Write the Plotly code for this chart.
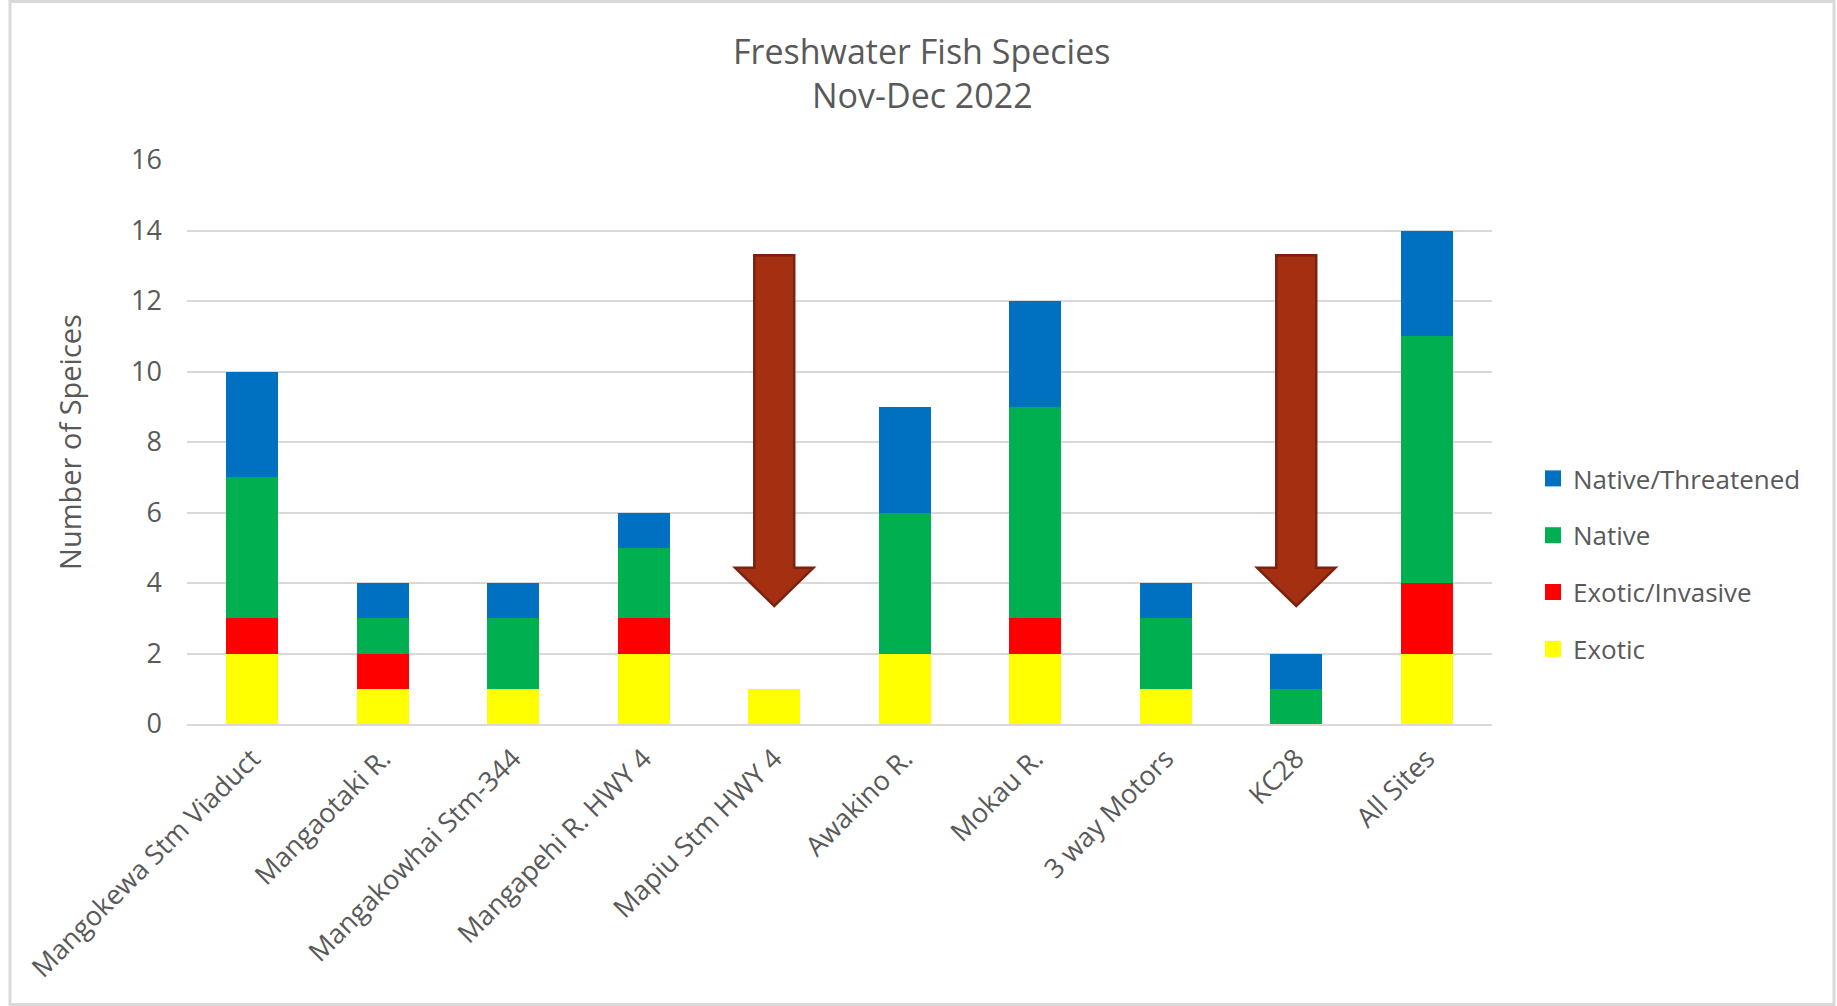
import plotly.graph_objects as go

# Sampling sites and species counts per category
sites = ["Mangokewa Stm Viaduct", "Mangaotaki R.", "Mangakowhai Stm-344",
         "Mangapehi R. HWY 4", "Mapiu Stm HWY 4", "Awakino R.", "Mokau R.",
         "3 way Motors", "KC28", "All Sites"]
exotic = [2, 1, 1, 2, 1, 2, 2, 1, 0, 2]
exotic_invasive = [1, 1, 0, 1, 0, 0, 1, 0, 0, 2]
native = [4, 1, 2, 2, 0, 4, 6, 2, 1, 7]
native_threatened = [3, 1, 1, 1, 0, 3, 3, 1, 1, 3]
y_ticks = [0, 2, 4, 6, 8, 10, 12, 14, 16]

# Sites flagged with a down arrow
flagged_sites = ["Mapiu Stm HWY 4", "KC28"]

FONT = "Open Sans"
GREY = "#595959"

W, H = 1837, 1006
L, R, T, B = 187, 345, 160, 282
PW, PH = W - L - R, H - T - B


def px_x(p):
    return (p - L) / PW


def px_y(p):
    return (H - B - p) / PH


fig = go.Figure()
series = [
    ("Exotic", exotic, "#FFFF00"),
    ("Exotic/Invasive", exotic_invasive, "#FF0000"),
    ("Native", native, "#00B050"),
    ("Native/Threatened", native_threatened, "#0070C0"),
]
n = len(series)
for k, (name, vals, col) in enumerate(series):
    fig.add_trace(go.Bar(
        x=sites, y=vals, name=name, showlegend=False,
        marker=dict(color=col, line=dict(width=0)),
    ))
    # Legend key: square swatch, top-to-bottom in reverse stacking order
    fig.add_trace(go.Scatter(
        x=[None], y=[None], mode="markers", name=name,
        legendgroup=name, legendrank=n - k,
        marker=dict(symbol="square", size=16, color=col),
    ))

# Down arrows over flagged sites (data coordinates: category index, count)
shaft_half, head_half = 0.153, 0.30
shaft_top, head_base, tip = 13.3, 4.43, 3.35
for s in flagged_sites:
    i = sites.index(s)
    path = (f"M {i - shaft_half} {shaft_top} L {i + shaft_half} {shaft_top} "
            f"L {i + shaft_half} {head_base} L {i + head_half} {head_base} "
            f"L {i} {tip} L {i - head_half} {head_base} "
            f"L {i - shaft_half} {head_base} Z")
    fig.add_shape(type="path", path=path, xref="x", yref="y",
                  fillcolor="#A52F11", line=dict(color="#7A2110", width=2.5),
                  layer="above")

# Chart-area frame
fig.add_shape(type="rect", xref="paper", yref="paper",
              x0=px_x(10), x1=px_x(1834), y0=px_y(1.5), y1=px_y(1004.5),
              line=dict(color="#D9D9D9", width=3), fillcolor="rgba(0,0,0,0)")

# Two-line title
for txt, yc in [("Freshwater Fish Species", 51), ("Nov-Dec 2022", 95)]:
    fig.add_annotation(text=txt, xref="paper", yref="paper",
                       x=px_x(922), y=px_y(yc), xanchor="center",
                       yanchor="middle", showarrow=False,
                       font=dict(family=FONT, size=34, color=GREY))

fig.update_layout(
    width=W, height=H,
    margin=dict(l=L, r=R, t=T, b=B, autoexpand=False),
    barmode="stack",
    bargap=0.605,
    plot_bgcolor="white",
    paper_bgcolor="white",
    font=dict(family=FONT, color=GREY, size=26),
    legend=dict(
        traceorder="grouped",
        x=px_x(1533), xanchor="left",
        y=px_y(564), yanchor="middle",
        font=dict(family=FONT, size=26, color=GREY),
        itemwidth=30,
        itemsizing="trace",
        tracegroupgap=20,
        bgcolor="rgba(0,0,0,0)",
    ),
    xaxis=dict(
        type="category",
        tickangle=-45,
        showgrid=False,
        showline=True, linecolor="#D9D9D9", linewidth=2,
        ticks="",
        ticklabelstandoff=6,
        tickfont=dict(family=FONT, size=27, color=GREY),
    ),
    yaxis=dict(
        range=[0, 16],
        tickvals=y_ticks,
        showgrid=True, gridcolor="#D9D9D9", gridwidth=2,
        zeroline=False,
        showline=False,
        ticks="",
        ticklabelstandoff=24,
        tickfont=dict(family=FONT, size=27, color=GREY),
        title=dict(text="Number of Speices", standoff=40,
                   font=dict(family=FONT, size=29, color=GREY)),
    ),
)

fig.write_html("out.html")
